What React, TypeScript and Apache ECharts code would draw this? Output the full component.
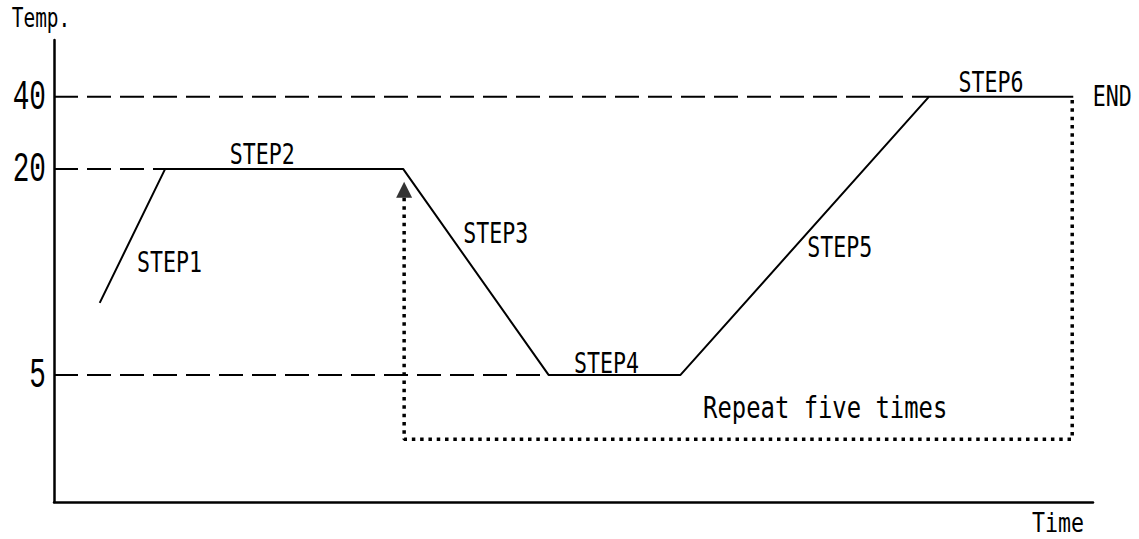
import React, { useEffect, useRef } from 'react';
import * as echarts from 'echarts';

// Schematic temperature profile (time units and display levels, 0-100)
const profileTime = [4.4, 10.7, 33.6, 47.6, 60.3, 84.2, 98.1];
const profileLevel = [43.1, 72.1, 72.1, 27.5, 27.5, 87.7, 87.7];
const stepNames = ['STEP1', 'STEP2', 'STEP3', 'STEP4', 'STEP5', 'STEP6'];

// Temperature tick labels and their display levels
const tickLabels = ['40', '20', '5'];
const tickLevels = [87.7, 72.1, 27.5];

// Repeat loop (dotted) and its arrow
const loopTime = [98.0, 98.0, 33.7, 33.7];
const loopLevel = [87.0, 13.6, 13.6, 66.2];
const arrowTime = [33.7];
const arrowLevel = [67.6];

const endLabel = 'END';
const repeatLabel = 'Repeat five times';
const xName = 'Time';
const yName = 'Temp.';

const MONO = "'DejaVu Sans Mono', 'Liberation Mono', monospace";
const THIN_MONO = "'Liberation Mono', 'DejaVu Sans Mono', monospace";

export default function App() {
  const ref = useRef<HTMLDivElement>(null);

  useEffect(() => {
    document.body.style.margin = '0';
    if (!ref.current) return;
    const chart = echarts.init(ref.current, null, { renderer: 'svg' });

    const profile = profileTime.map((t, i) => [t, profileLevel[i]]);
    const loop = loopTime.map((t, i) => [t, loopLevel[i]]);

    const guideSeries = tickLevels.map((lv, i) => {
      const idx = profileLevel.findIndex((p) => p === lv);
      return {
        type: 'line',
        name: 'guide' + tickLabels[i],
        data: [[0, lv], [profileTime[idx], lv]],
        symbol: 'none',
        silent: true,
        lineStyle: { color: '#000', width: 2, type: [24, 9] },
        z: 1,
      };
    });

    const option: any = {
      animation: false,
      backgroundColor: '#fff',
      grid: { left: 54, right: 46, top: 40, bottom: 37, outerBoundsMode: 'none' },
      xAxis: {
        type: 'value',
        min: 0,
        max: 100,
        axisLine: { show: true, onZero: false, lineStyle: { color: '#000', width: 2.5 } },
        axisTick: { show: false },
        axisLabel: { show: false },
        splitLine: { show: false },
      },
      yAxis: {
        type: 'value',
        min: 0,
        max: 100,
        axisLine: { show: true, onZero: false, lineStyle: { color: '#000', width: 2.5 } },
        axisTick: { show: false },
        axisLabel: { show: false },
        splitLine: { show: false },
      },
      series: [
        ...guideSeries,
        {
          type: 'line',
          name: 'profile',
          data: profile,
          symbol: 'none',
          lineStyle: { color: '#000', width: 2 },
          z: 3,
        },
        {
          type: 'line',
          name: 'loop',
          data: loop,
          symbol: 'none',
          lineStyle: { color: '#000', width: 3.5, type: [3.5, 4.8] },
          z: 2,
        },
        {
          type: 'scatter',
          name: 'arrow',
          data: arrowTime.map((t, i) => [t, arrowLevel[i]]),
          symbol: 'triangle',
          symbolSize: [16, 16],
          itemStyle: { color: '#000' },
          z: 4,
        },
      ],
    };

    chart.setOption(option);

    // Text annotations, placed through the grid's coordinate system
    const px = (t: number, lv: number) => chart.convertToPixel({ gridIndex: 0 }, [t, lv]) as number[];
    const txt = (text: string, x: number, y: number, size: number, sx: number, align = 'center', family = MONO) => ({
      type: 'text',
      x,
      y,
      scaleX: sx,
      silent: true,
      style: {
        text,
        font: `${size}px ${family}`,
        fill: '#000',
        align,
        verticalAlign: 'middle',
      },
    });

    const stepOffsets = [[37, 26], [-22, -15], [20, -39], [-8, -12], [35, 11], [-10, -15]];
    const graphics: any[] = [];
    stepNames.forEach((name, i) => {
      const p = px((profileTime[i] + profileTime[i + 1]) / 2, (profileLevel[i] + profileLevel[i + 1]) / 2);
      graphics.push(txt(name, p[0] + stepOffsets[i][0], p[1] + stepOffsets[i][1], 29, 0.745));
    });
    const last = profileTime.length - 1;
    const pe = px(profileTime[last], profileLevel[last]);
    graphics.push(txt(endLabel, pe[0] + 39, pe[1] - 1, 29, 0.745));

    tickLevels.forEach((lv, i) => {
      const p = px(0, lv);
      graphics.push(txt(tickLabels[i], p[0] - 8, p[1] + 1, 42, 0.66, 'right', THIN_MONO));
    });

    const pl = px(loopTime[1], loopLevel[1]);
    const pr = px(loopTime[2], loopLevel[2]);
    graphics.push(txt(repeatLabel, (pl[0] + pr[0]) / 2 + 87, pl[1] - 32, 31, 0.77));

    const origin = px(0, 100);
    graphics.push(txt(yName, origin[0] - 13, origin[1] - 22, 27, 0.72));
    const xEnd = px(100, 0);
    graphics.push(txt(xName, xEnd[0] - 35, xEnd[1] + 21, 27, 0.8));

    chart.setOption({ graphic: graphics });
    return () => chart.dispose();
  }, []);

  return <div ref={ref} style={{ width: 1139, height: 539 }} />;
}
